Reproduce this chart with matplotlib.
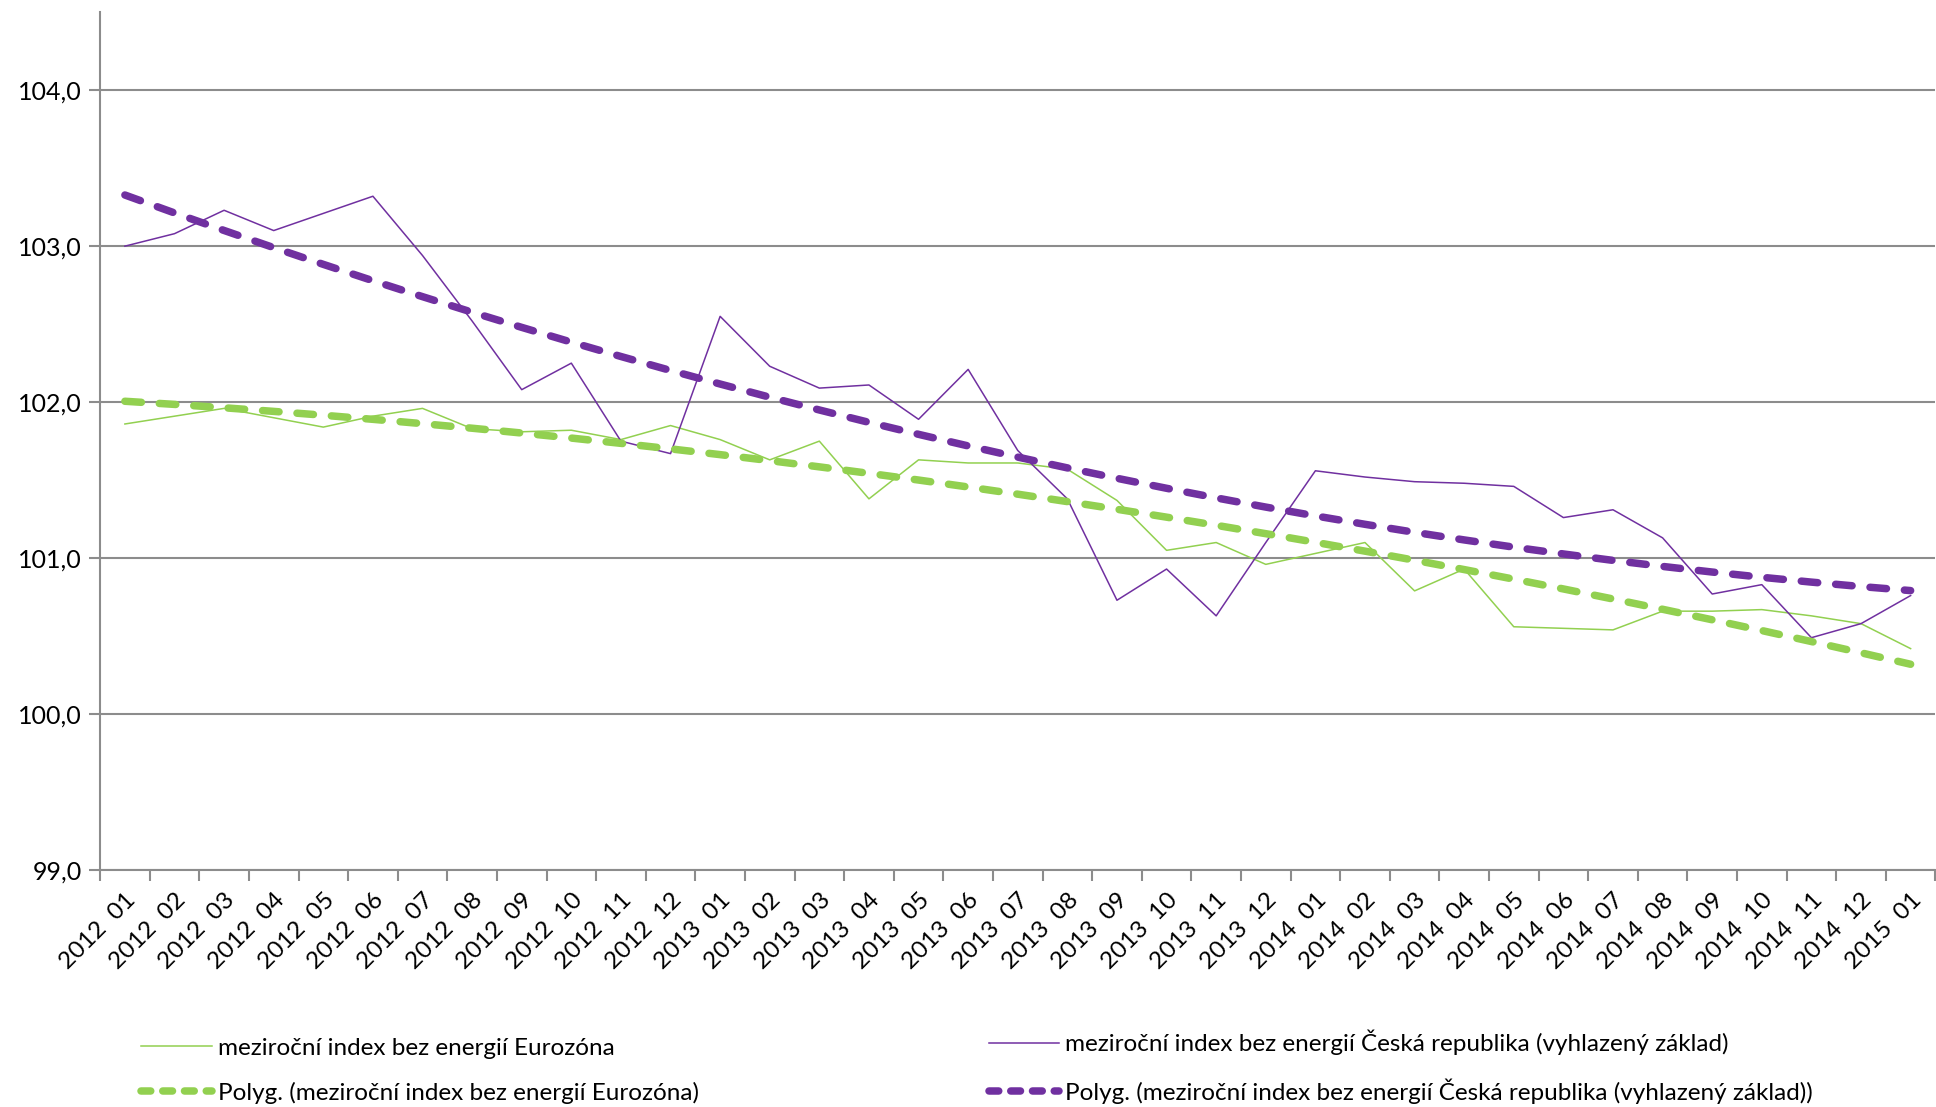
import numpy as np
import matplotlib
matplotlib.use("Agg")
import matplotlib.pyplot as plt
from matplotlib.lines import Line2D

plt.rcParams['font.family'] = ['Lato', 'DejaVu Sans']

# monthly labels 2012 01 .. 2015 01
months = ['2012  01', '2012  02', '2012  03', '2012  04', '2012  05', '2012  06',
          '2012  07', '2012  08', '2012  09', '2012  10', '2012  11', '2012  12',
          '2013  01', '2013  02', '2013  03', '2013  04', '2013  05', '2013  06',
          '2013  07', '2013  08', '2013  09', '2013  10', '2013  11', '2013  12',
          '2014  01', '2014  02', '2014  03', '2014  04', '2014  05', '2014  06',
          '2014  07', '2014  08', '2014  09', '2014  10', '2014  11', '2014  12',
          '2015  01']

eurozona = [101.86, 101.91, 101.96, 101.90, 101.84, 101.91, 101.96, 101.83, 101.81,
            101.82, 101.76, 101.85, 101.76, 101.63, 101.75, 101.38, 101.63, 101.61,
            101.61, 101.57, 101.37, 101.05, 101.10, 100.96, 101.03, 101.10, 100.79,
            100.93, 100.56, 100.55, 100.54, 100.66, 100.66, 100.67, 100.63, 100.58,
            100.42]

cr = [103.00, 103.08, 103.23, 103.10, 103.21, 103.32, 102.94, 102.52, 102.08,
      102.25, 101.75, 101.67, 102.55, 102.23, 102.09, 102.11, 101.89, 102.21,
      101.69, 101.38, 100.73, 100.93, 100.63, 101.10, 101.56, 101.52, 101.49,
      101.48, 101.46, 101.26, 101.31, 101.13, 100.77, 100.83, 100.49, 100.58,
      100.76]

yticks = [99, 100, 101, 102, 103, 104]

lbl_ez = 'meziroční index bez energií Eurozóna'
lbl_cr = 'meziroční index bez energií Česká republika (vyhlazený základ)'

green = '#92D050'
purple = '#7030A0'
grid_c = '#8C8C8C'

x = np.arange(len(months))
# polynomial (order 2) trend lines as in the original chart
trend_ez = np.polyval(np.polyfit(x, eurozona, 2), x)
trend_cr = np.polyval(np.polyfit(x, cr, 2), x)

fig = plt.figure(figsize=(19.36, 11.07), dpi=100)
ax = fig.add_axes([0.0517, 0.214, 0.948, 0.775])

tw = 5.4
tdash = (2.2, 2.4)
ax.plot(x, eurozona, color=green, lw=1.1)
ax.plot(x, cr, color=purple, lw=1.1)
ax.plot(x, trend_ez, color=green, lw=tw, dashes=tdash, dash_capstyle='round')
ax.plot(x, trend_cr, color=purple, lw=tw, dashes=tdash, dash_capstyle='round')

ax.set_xlim(-0.5, len(months) - 0.5)
ax.set_ylim(99, 104.5)
ax.set_yticks(yticks)
ax.set_yticklabels([('%.1f' % v).replace('.', ',') for v in yticks], fontsize=18)
ax.yaxis.grid(True, color=grid_c, lw=1.5)
ax.set_axisbelow(True)

ax.set_xticks(x)
ax.set_xticklabels(months, rotation=45, ha='right', rotation_mode='anchor', fontsize=17.5)
ax.tick_params(axis='x', which='major', length=0, pad=14)
ax.set_xticks(np.arange(-0.5, len(months), 1.0), minor=True)
ax.tick_params(axis='x', which='minor', length=8, width=1.5, color=grid_c)
ax.tick_params(axis='y', length=8, width=1.5, color=grid_c, pad=5)

for s in ['top', 'right']:
    ax.spines[s].set_visible(False)
for s in ['left', 'bottom']:
    ax.spines[s].set_color(grid_c)
    ax.spines[s].set_linewidth(1.5)

h_ez = Line2D([], [], color=green, lw=1.1)
h_cr = Line2D([], [], color=purple, lw=1.1)
h_tez = Line2D([], [], color=green, lw=tw, dashes=(1.3, 1.6), dash_capstyle='round')
h_tcr = Line2D([], [], color=purple, lw=tw, dashes=(1.3, 1.6), dash_capstyle='round')

leg_kw = dict(frameon=False, fontsize=17.5, handlelength=2.9, handletextpad=0.25,
              labelspacing=0.95, loc='lower left', borderaxespad=0)
fig.legend([h_ez, h_tez], [lbl_ez, 'Polyg. (' + lbl_ez + ')'],
           bbox_to_anchor=(0.068, -0.006), **leg_kw)
fig.legend([h_cr, h_tcr], [lbl_cr, 'Polyg. (' + lbl_cr + ')'],
           bbox_to_anchor=(0.5056, -0.006), **leg_kw)

fig.savefig('out.png', dpi=100)
